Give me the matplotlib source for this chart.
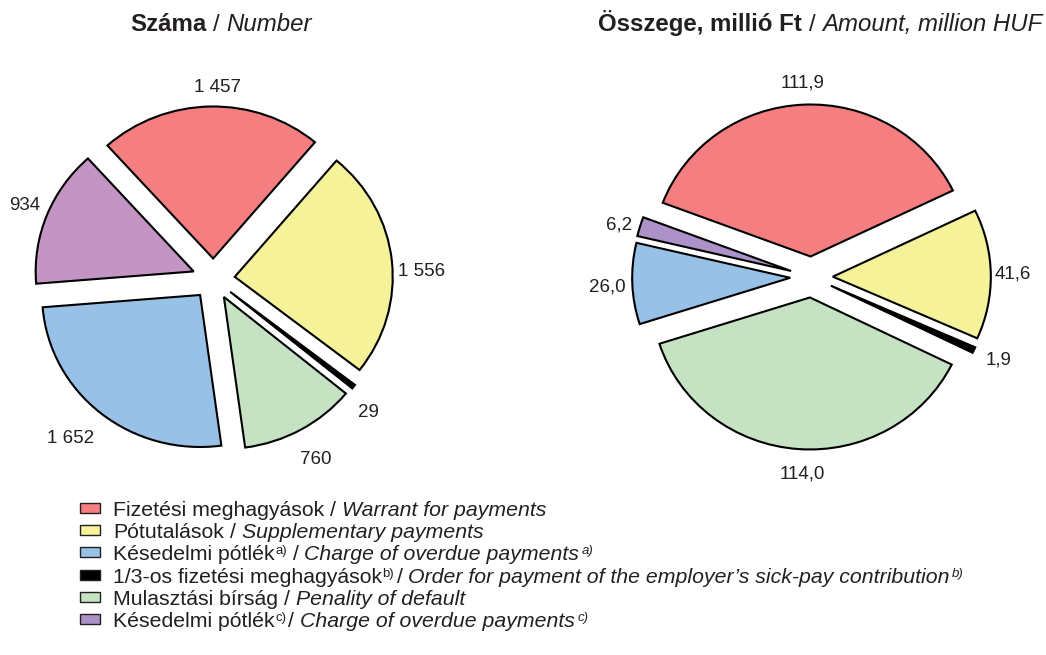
import matplotlib.pyplot as plt
from matplotlib.patches import Rectangle
from matplotlib.transforms import IdentityTransform, offset_copy

plt.rcParams['font.family'] = ['Liberation Sans', 'DejaVu Sans']

W, H, DPI = 1046, 655, 100

# legend rows (Hungarian / English) with footnote marks
legend_hu = ['Fizetési meghagyások', 'Pótutalások', 'Késedelmi pótlék',
             '1/3-os fizetési meghagyások', 'Mulasztási bírság', 'Késedelmi pótlék']
legend_en = ['Warrant for payments', 'Supplementary payments', 'Charge of overdue payments',
             'Order for payment of the employer’s sick-pay contribution',
             'Penality of default', 'Charge of overdue payments']
legend_notes = ['', '', 'a)', 'b)', '', 'c)']
legend_colors = ['#F47E80', '#F5F29A', '#97C1E6', '#000000', '#C5E2C2', '#AC92C8']

# pie slices, clockwise: warrant, supplementary, 1/3-os, default, overdue a), overdue c)
count_values = [1457, 1556, 29, 760, 1652, 934]
amount_values = [111.9, 41.6, 1.9, 114.0, 26.0, 6.2]
count_colors = ['#F47E80', '#F5F29A', '#000000', '#C5E2C2', '#97C1E6', '#C494C4']
amount_colors = ['#F47E80', '#F5F29A', '#000000', '#C5E2C2', '#97C1E6', '#AC92C8']

count_labels = [f'{v:,}'.replace(',', ' ') for v in count_values]
amount_labels = [f'{v:.1f}'.replace('.', ',') for v in amount_values]

# small hand nudges for the value labels (points, x right / y up)
count_nudge = [(5, -6), (1, -10), (-5, -6), (1, -4), (-9, -3), (3, 0)]
amount_nudge = [(0, 0), (0, 0), (3, -1), (4, -3), (-2, -2), (0, -3)]

fig = plt.figure(figsize=(W / DPI, H / DPI), dpi=DPI)
renderer = fig.canvas.get_renderer()
px = IdentityTransform()


def text_width(s, **kw):
    t = fig.text(0, 0, s, transform=px, **kw)
    w = t.get_window_extent(renderer).width
    t.remove()
    return w


def rich_line(x, y, pieces, ha='left'):
    # pieces: (text, props, rise, gap before) -- y counted from the top
    widths = [text_width(s, **p) for s, p, _, _ in pieces]
    total = sum(widths) + sum(g for _, _, _, g in pieces)
    if ha == 'center':
        x -= total / 2
    for (s, p, rise, gap), w in zip(pieces, widths):
        x += gap
        fig.text(x, H - y + rise, s, transform=px, va='baseline', **p)
        x += w


def space(size):
    return 0.278 * size * DPI / 72


def draw_pie(cx, cy, values, labels, colors, start, dist, nudge):
    rx, ry, lim = 158, 152, 1.35
    ax = fig.add_axes([(cx - lim * rx) / W, (H - cy - lim * ry) / H,
                       2 * lim * rx / W, 2 * lim * ry / H])
    wedges, texts = ax.pie(values, labels=labels, colors=colors, startangle=start,
                           counterclock=False, explode=[0.135] * len(values),
                           labeldistance=dist,
                           wedgeprops=dict(edgecolor='black', linewidth=1.5),
                           textprops=dict(fontsize=13.5, color='#231f20'))
    for t, (dx, dy) in zip(texts, nudge):
        t.set_ha('center')
        t.set_transform(offset_copy(ax.transData, fig=fig, x=dx, y=dy, units='points'))
    ax.set_aspect('auto')
    ax.set_xlim(-lim, lim)
    ax.set_ylim(-lim, lim)
    return ax


# left pie: number of cases
draw_pie(213.5, 279, count_values, count_labels, count_colors, 132, 1.18, count_nudge)
# right pie: amount in million HUF
draw_pie(811.5, 277, amount_values, amount_labels, amount_colors, 159.3, 1.14, amount_nudge)

# titles
ts = 17.3
bold = dict(fontsize=ts, fontweight='bold', color='#231f20')
norm = dict(fontsize=ts, color='#231f20')
ital = dict(fontsize=ts, fontstyle='italic', color='#231f20')
rich_line(221, 31, [('Száma', bold, 0, 0), ('/', norm, 0, space(ts)),
                    ('Number', ital, 0, space(ts))], ha='center')
rich_line(820, 31, [('Összege, millió Ft', bold, 0, 0), ('/', norm, 0, space(ts)),
                    ('Amount, million HUF', ital, 0, space(ts))], ha='center')

# legend
ls, ns = 15.3, 9.5
l_norm = dict(fontsize=ls, color='#231f20')
l_ital = dict(fontsize=ls, fontstyle='italic', color='#231f20')
n_norm = dict(fontsize=ns, color='#231f20')
n_ital = dict(fontsize=ns, fontstyle='italic', color='#231f20')
row_y = 516
for hu, en, note, col in zip(legend_hu, legend_en, legend_notes, legend_colors):
    fig.add_artist(Rectangle((80, H - row_y + 3), 20, 10, transform=px,
                             facecolor=col, edgecolor='#231f20', linewidth=1))
    pieces = [(hu, l_norm, 0, 0)]
    if note:
        pieces.append((note, n_norm, 6, 0.5))
        pieces.append(('/', l_norm, 0, space(ls) * (1 if note == 'a)' else 0.4)))
    else:
        pieces.append(('/', l_norm, 0, space(ls)))
    pieces.append((en, l_ital, 0, space(ls)))
    if note:
        pieces.append((note, n_ital, 6, 2))
    rich_line(113, row_y, pieces)
    row_y += 22.2

fig.savefig('out.png', dpi=DPI)
